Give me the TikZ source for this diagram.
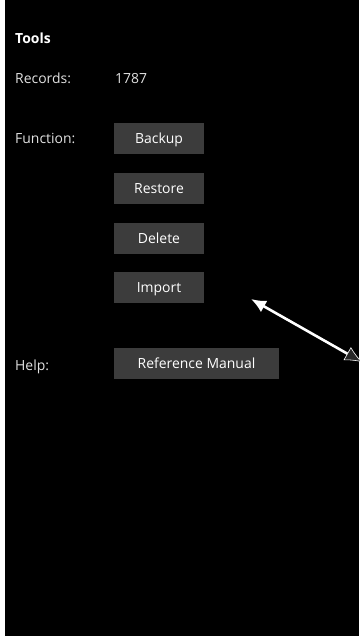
\documentclass[tikz,border=0pt]{standalone}
\usepackage{fontspec}
\setmainfont{Open Sans}
\usetikzlibrary{arrows.meta}
\definecolor{btngray}{RGB}{60,60,60}
\definecolor{lblgray}{RGB}{225,225,225}
\definecolor{headgray}{RGB}{40,40,40}
\tikzset{
  lbl/.style={anchor=west,inner sep=0pt,text height=10bp,text depth=0bp,text=lblgray,font=\fontsize{14}{16}\selectfont},
  btn/.style={fill=btngray,draw=none,minimum height=31bp,inner sep=0pt,text height=10bp,text depth=0bp,text=white,font=\fontsize{14}{16}\selectfont}
}
\begin{document}
\begin{tikzpicture}[x=1bp,y=-1bp]
  \useasboundingbox (0,0) rectangle (359,636);
  \fill[white] (0,0) rectangle (359,636);
  \fill[black] (5,0) rectangle (359,636);
  \node (Tools) at (15,38.3) [lbl,text=white,font=\fontsize{14}{16}\selectfont\bfseries] {Tools};
  \node (Records) at (15,78.3) [lbl] {Records:};
  \node (Count) at (115,78.3) [lbl] {1787};
  \node (Function) at (15,138.3) [lbl] {Function:};
  \node (Help) at (15,365) [lbl] {Help:};
  \node (Backup) at (159,138.5) [btn,minimum width=90bp] {Backup};
  \node (Restore) at (159,188.5) [btn,minimum width=90bp] {Restore};
  \node (Delete) at (159,238.5) [btn,minimum width=90bp] {Delete};
  \node (Import) at (159,287.5) [btn,minimum width=90bp] {Import};
  \node (Manual) at (196.5,363.5) [btn,minimum width=165bp] {Reference Manual};
  \coordinate (ArrTip) at (251,299);
  \coordinate (ArrTail) at (362,362);
  \draw [white,line width=2.6bp,{Latex[length=17bp,width=15bp,fill=headgray,line width=0.6bp]}-{Latex[length=15bp,width=13bp]}] (ArrTail) -- (ArrTip);
\end{tikzpicture}
\end{document}
